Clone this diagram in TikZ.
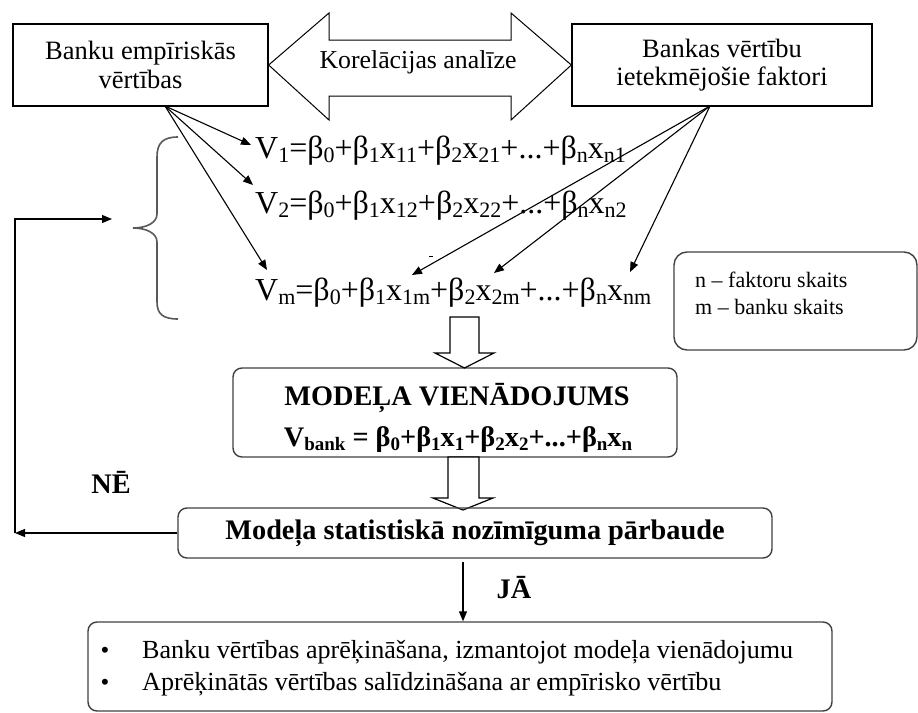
\documentclass[tikz,border=0pt]{standalone}
\usepackage{fontspec}
\setmainfont{Liberation Serif}
\usetikzlibrary{arrows.meta}
\newcommand{\eqsub}[1]{\raisebox{-4.5pt}{\fontsize{22}{22}\selectfont #1}}
\newcommand{\bsub}[1]{\raisebox{-4pt}{\fontsize{19}{19}\selectfont #1}}
\begin{document}
\begin{tikzpicture}[x=1pt,y=-1pt,
  conn/.style={line width=1.1pt, -{Triangle[length=10pt,width=8pt]}},
  sqbox/.style={draw, line width=1.3pt, align=center, inner sep=0pt, font=\fontsize{26.5}{28.5}\selectfont},
  rbox/.style={draw=black!75, line width=1.4pt, rounded corners=9pt, inner sep=0pt},
  hollow/.style={draw, line width=1.2pt, fill=white, line join=miter},
  txt/.style={inner sep=0pt},
  eqfont/.style={font=\fontsize{32}{32}\selectfont},
  boldfont/.style={font=\bfseries\fontsize{28.3}{28.3}\selectfont}
]
\useasboundingbox (0,0) rectangle (918,712);

% top boxes
\node[sqbox, minimum width=255pt, minimum height=82pt] (emp) at (140.5,65) {Banku empīriskās\\vērtības};
\node[sqbox, minimum width=300pt, minimum height=82pt] (fac) at (722,65) {Bankas vērtību\\ietekmējošie faktori};

% double block arrow
\draw[line width=1pt, line join=miter] (emp.east) -- (329,13) -- (329,40) -- (511,40) -- (511,13) -- (fac.west) -- (511,120) -- (511,96) -- (329,96) -- (329,120) -- cycle;
\node[txt, font=\fontsize{25.8}{25.8}\selectfont] (kor) at (418,62) {Korelācijas analīze};

% equations
\node[txt, anchor=base west, eqfont] (eq1) at (255,158) {V\eqsub{1}=β\eqsub{0}+β\eqsub{1}x\eqsub{11}+β\eqsub{2}x\eqsub{21}+...+β\eqsub{n}x\eqsub{n1}};
\node[txt, anchor=base west, eqfont] (eq2) at (255,213) {V\eqsub{2}=β\eqsub{0}+β\eqsub{1}x\eqsub{12}+β\eqsub{2}x\eqsub{22}+...+β\eqsub{n}x\eqsub{n2}};
\node[txt, anchor=base west, eqfont] (eqm) at (255,300) {V\eqsub{m}=β\eqsub{0}+β\eqsub{1}x\eqsub{1m}+β\eqsub{2}x\eqsub{2m}+...+β\eqsub{n}x\eqsub{nm}};

% arrows to equations
\coordinate (ls) at (165,106);
\coordinate (rs) at (710,106);
\coordinate (t1) at (251,145);
\coordinate (t2) at (253,185);
\coordinate (t3) at (267,270);
\coordinate (r1) at (412,275);
\coordinate (r2) at (494,273);
\coordinate (r3) at (630,272);
\draw[conn] (ls) -- (t1);
\draw[conn] (ls) -- (t2);
\draw[conn] (ls) -- (t3);
\draw[conn] (rs) -- (r1);
\draw[conn] (rs) -- (r2);
\draw[conn] (rs) -- (r3);
\draw[line width=0.8pt] (429,256) -- (433,256);

% brace
\draw[black!65, line width=1.6pt] (178,137) .. controls (163,137) and (157,143) .. (157,157) -- (157,214) .. controls (157,223) and (146,228) .. (133,228) .. controls (146,228) and (157,233) .. (157,242) -- (157,302) .. controls (157,314) and (163,319) .. (178,319);

% legend
\node[rbox, minimum width=243pt, minimum height=98pt, rounded corners=13pt] (leg) at (795.5,301) {};
\node[txt, anchor=base west, font=\fontsize{22}{22}\selectfont] (leg1) at (695,287) {n – faktoru skaits};
\node[txt, anchor=base west, font=\fontsize{22}{22}\selectfont] (leg2) at (695,314) {m – banku skaits};

% model box
\node[rbox, minimum width=444pt, minimum height=89pt] (model) at (455,412.5) {};
\node[txt, boldfont] (mt1) at (457,398) {MODEĻA VIENĀDOJUMS};
\node[txt, anchor=base, boldfont] (mt2) at (458,446) {V\bsub{bank} = β\bsub{0}+β\bsub{1}x\bsub{1}+β\bsub{2}x\bsub{2}+...+β\bsub{n}x\bsub{n}};

% hollow arrows
\draw[hollow] (450,317) -- (479,317) -- (479,353) -- (494,353) -- (464.5,368) -- (435,353) -- (450,353) -- cycle;
\draw[hollow] (448,457) -- (479,457) -- (479,498) -- (493,498) -- (463,510) -- (433,498) -- (448,498) -- cycle;

% statistical test box
\node[rbox, minimum width=594pt, minimum height=50pt, boldfont] (stat) at (475,533) {Modeļa statistiskā nozīmīguma pārbaude};

% feedback loop
\coordinate (fb1) at (15,533);
\coordinate (fb2) at (15,219);
\coordinate (fbt) at (112,219);
\draw[conn] (stat.west) -- (fb1);
\draw[conn] (fb1) -- (fb2) -- (fbt);
\node[txt, boldfont] (ne) at (111,482) {NĒ};

% yes arrow
\node[rbox, minimum width=744pt, minimum height=89pt] (bot) at (460,666.5) {};
\coordinate (jx) at (463,562);
\draw[conn] (jx) -- (jx |- bot.north);
\node[txt, boldfont] (ja) at (514,588) {JĀ};

% bullets
\node[txt, anchor=base, font=\fontsize{25}{25}\selectfont] (b1) at (105,658) {•};
\node[txt, anchor=base, font=\fontsize{25}{25}\selectfont] (b2) at (105,690) {•};
\node[txt, anchor=base west, font=\fontsize{26.1}{26.1}\selectfont] (l1) at (142,658) {Banku vērtības aprēķināšana, izmantojot modeļa vienādojumu};
\node[txt, anchor=base west, font=\fontsize{26.1}{26.1}\selectfont] (l2) at (142,690) {Aprēķinātās vērtības salīdzināšana ar empīrisko vērtību};
\end{tikzpicture}
\end{document}
